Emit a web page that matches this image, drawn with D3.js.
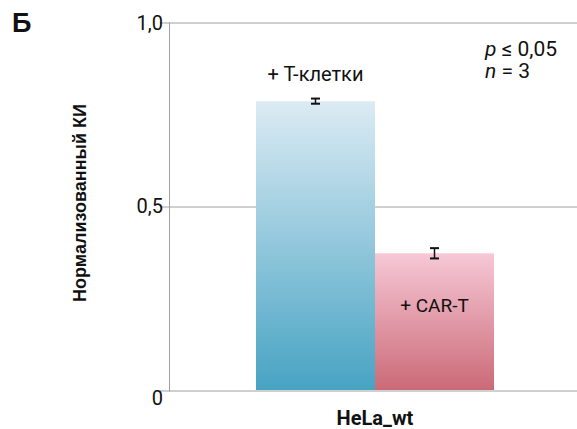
<!DOCTYPE html>
<html>
<head>
<meta charset="utf-8">
<script src="https://cdn.jsdelivr.net/npm/d3@7"></script>
<style>
	body { margin: 0; background: #fff; }
	text { font-family: Roboto, "Liberation Sans", sans-serif; fill: #111; }
</style>
</head>
<body>
<svg id="chart" width="577" height="429"></svg>
<script>
// data
var groups = ["+ T-клетки", "+ CAR-T"];
var values = [0.786, 0.372];
var errors = [0.007, 0.014];
var yTicks = [0, 0.5, 1.0];
var yTickLabels = ["0", "0,5", "1,0"];
var category = "HeLa_wt";

var svg = d3.select("#chart");
var margin = {left: 170, right: 0, top: 22.5, bottom: 39};
var width = 577 - margin.left - margin.right,
	height = 429 - margin.top - margin.bottom;

var y = d3.scaleLinear().domain([0, 1]).range([height, 0]);
var x = d3.scaleBand().domain(groups).range([86, 324]).padding(0);

// gradients
var defs = svg.append("defs");
var grads = [["#dcebf4", "#47a3c3"], ["#f7c8d6", "#cb6a77"]];
grads.forEach(function (c, i) {
	var g = defs.append("linearGradient")
		.attr("id", "grad" + i)
		.attr("x1", 0).attr("y1", 0).attr("x2", 0).attr("y2", 1);
	g.append("stop").attr("offset", "0%").attr("stop-color", c[0]);
	g.append("stop").attr("offset", "100%").attr("stop-color", c[1]);
});

var g = svg.append("g").attr("transform", "translate(" + margin.left + "," + margin.top + ")");

// gridlines + ticks
g.selectAll("line.grid")
	.data(yTicks)
	.enter().append("line")
	.attr("class", "grid")
	.attr("x1", -10).attr("x2", width)
	.attr("y1", function (d) { return Math.round(y(d)) + 0.5; })
	.attr("y2", function (d) { return Math.round(y(d)) + 0.5; })
	.attr("stroke", "#a0a0a0")
	.attr("stroke-width", 1);

g.append("line")
	.attr("x1", -0.5).attr("x2", -0.5)
	.attr("y1", Math.round(y(1))).attr("y2", Math.round(y(0)) + 1)
	.attr("stroke", "#a0a0a0");

g.selectAll("text.tick")
	.data(yTicks)
	.enter().append("text")
	.attr("class", "tick")
	.attr("x", -7)
	.attr("y", function (d) { return y(d) + (d === 0 ? 8 : 0); })
	.attr("dy", "0.35em")
	.attr("text-anchor", "end")
	.style("font-size", "20px")
	.text(function (d, i) { return yTickLabels[i]; });

// bars
g.selectAll("rect.bar")
	.data(values)
	.enter().append("rect")
	.attr("class", "bar")
	.attr("x", function (d, i) { return x(groups[i]); })
	.attr("width", x.bandwidth())
	.attr("y", function (d) { return y(d); })
	.attr("height", function (d) { return y(0) - y(d); })
	.attr("fill", function (d, i) { return "url(#grad" + i + ")"; });

// error bars
var eb = g.selectAll("g.err")
	.data(values)
	.enter().append("g")
	.attr("class", "err")
	.attr("transform", function (d, i) { return "translate(" + (x(groups[i]) + x.bandwidth() / 2) + ",0)"; });
eb.append("line")
	.attr("y1", function (d, i) { return y(d + errors[i]); })
	.attr("y2", function (d, i) { return y(d - errors[i]); })
	.attr("stroke", "#111").attr("stroke-width", 1.5);
[1, -1].forEach(function (s) {
	eb.append("line")
		.attr("x1", -4.5).attr("x2", 4.5)
		.attr("y1", function (d, i) { return y(d + s * errors[i]); })
		.attr("y2", function (d, i) { return y(d + s * errors[i]); })
		.attr("stroke", "#111").attr("stroke-width", 2);
});

// group labels
g.append("text")
	.attr("x", x(groups[0]) + x.bandwidth() / 2)
	.attr("y", y(0.84))
	.attr("text-anchor", "middle")
	.style("font-size", "20px")
	.text(groups[0]);
g.append("text")
	.attr("x", x(groups[1]) + x.bandwidth() / 2)
	.attr("y", y(0.213))
	.attr("text-anchor", "middle")
	.style("font-size", "19px")
	.text(groups[1]);

// stats note
var note = g.append("text").attr("x", 315).attr("y", y(0.91)).style("font-size", "21px");
note.append("tspan").style("font-style", "italic").text("p");
note.append("tspan").text(" ≤ 0,05");
var note2 = g.append("text").attr("x", 315).attr("y", y(0.85)).style("font-size", "21px");
note2.append("tspan").style("font-style", "italic").text("n");
note2.append("tspan").text(" = 3");

// category label
g.append("text")
	.attr("x", (x.range()[0] + x.range()[1]) / 2)
	.attr("y", height + 35)
	.attr("text-anchor", "middle")
	.style("font-size", "20px")
	.style("font-weight", "bold")
	.text(category);

// y axis title
svg.append("text")
	.attr("transform", "translate(86,203) rotate(-90)")
	.attr("text-anchor", "middle")
	.style("font-family", "'Liberation Sans', Arial, sans-serif")
	.style("font-size", "18px")
	.style("font-weight", "bold")
	.text("Нормализованный КИ");

// panel letter
svg.append("text")
	.attr("x", 12).attr("y", 32)
	.style("font-family", "'Liberation Sans', Arial, sans-serif")
	.style("font-size", "27px")
	.style("font-weight", "bold")
	.text("Б");
</script>
</body>
</html>
